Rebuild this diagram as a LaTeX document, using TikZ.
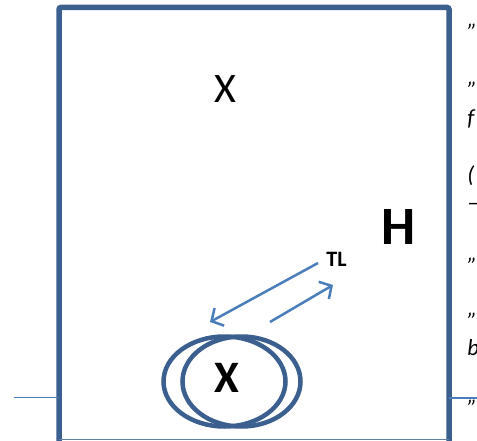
\documentclass[tikz,border=0pt]{standalone}
\usepackage{fontspec}
\setmainfont{Carlito}
\usepackage{tikz}
\usetikzlibrary{positioning,arrows.meta}
\definecolor{frameblue}{HTML}{3B5F8E}
\definecolor{lineblue}{HTML}{4A7EBB}
\begin{document}
\begin{tikzpicture}[x=1pt,y=-1pt,thick,
    frame/.style={draw=frameblue,line width=5.5pt,rounded corners=2pt},
    ring/.style={draw=frameblue,line width=4.5pt},
    link/.style={draw=lineblue,line width=2.5pt,-{Straight Barb[length=9pt,width=20pt,line width=2.5pt]}},
    wire/.style={draw=lineblue,line width=1.8pt},
    label node/.style={inner sep=0pt,font=\bfseries},
    side text/.style={anchor=base west,inner sep=0pt,font=\itshape\fontsize{23}{23}\selectfont}]
				\useasboundingbox (0,0) rectangle (477,441);
				\clip (0,0) rectangle (477,441);

				% box
				\draw[frame] (59,470) -- (59,7.5) -- (449,7.5) -- (449,470);
				\draw[draw=frameblue!80,line width=1.5pt] (59,439.5) -- (449,439.5);

				% rings
				\draw[ring] (224.5,381.5) ellipse [x radius=61, y radius=45];
				\draw[ring] (241.5,381.5) ellipse [x radius=59, y radius=45];

				\node (x1) at (225,89) {\fontsize{42}{42}\selectfont X};
				\node[label node] (x2) at (227,378) {\fontsize{45}{45}\selectfont X};
				\node[label node] (h) at (398.5,227) {\fontsize{54}{54}\selectfont H};
				\node[label node] (tl) at (336.5,259) {\fontsize{22}{22}\selectfont TL};

				% arrows
				\coordinate (a1) at (318,263);
				\coordinate (b1) at (210,322);
				\coordinate (a2) at (270,322);
				\coordinate (b2) at (333,285);
				\path[link] (a1) -- (b1);
				\path[link] (a2) -- (b2);

				% wires
				\coordinate (w1) at (14,397.5);
				\coordinate (w2) at (59,397.5);
				\coordinate (w3) at (449,398);
				\coordinate (w4) at (477,398);
				\path[wire] (w1) -- (w2);
				\path[wire] (w3) -- (w4);

				% text cut off at the edge
				\node[side text] (t1) at (467,27) {„};
				\node[side text] (t2) at (467,85) {„};
				\node[side text] (t3) at (467,126) {f};
				\node[side text] (t4) at (467,183) {(};
				\node[side text] (t5) at (467,211) {–};
				\node[side text] (t6) at (467,260) {„};
				\node[side text] (t7) at (467,315) {„};
				\node[side text] (t8) at (467,355) {b};
				\node[side text] (t9) at (467,402) {„};

			\end{tikzpicture}
\end{document}
